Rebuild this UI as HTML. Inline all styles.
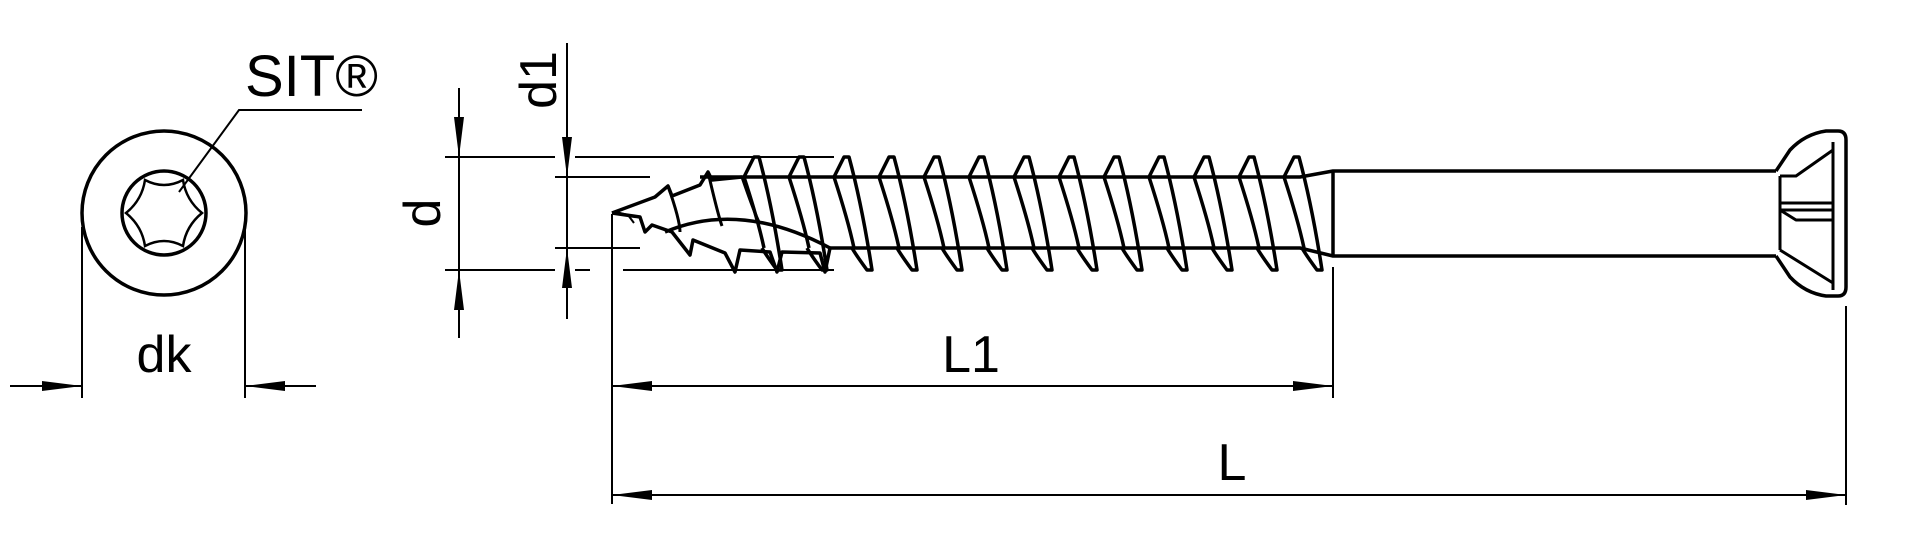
<!DOCTYPE html>
<html><head><meta charset="utf-8"><style>
html,body{margin:0;padding:0;background:#fff;width:1920px;height:548px;overflow:hidden}
svg{display:block}
text{font-family:"Liberation Sans",sans-serif;fill:#000}
</style></head><body>
<svg width="1920" height="548" viewBox="0 0 1920 548" xmlns="http://www.w3.org/2000/svg">
<defs>
<marker id="ar" viewBox="0 0 40 10" refX="40" refY="5" markerWidth="40" markerHeight="10" markerUnits="userSpaceOnUse" orient="auto"><path d="M0,0 L40,5 L0,10 Z" fill="#000"/></marker>
</defs>
<g fill="none" stroke="#000" stroke-width="3.5">
<circle cx="164" cy="213" r="82"/>
<circle cx="164" cy="213" r="42"/>
<path d="M202,213 Q186,226 183,246 Q164,236 145,246 Q142,226 126,213 Q142,200 145,180 Q164,190 183,180 Q186,200 202,213 Z" stroke-width="2.5"/>
</g>
<g fill="none" stroke="#000" stroke-width="2">
<path d="M179,192 L239,110 L362,110"/>
<path d="M82,227 V398 M245,227 V398"/>
<path d="M10,386 H82" marker-end="url(#ar)"/>
<path d="M316,386 H245" marker-end="url(#ar)"/>
<path d="M459,88 V157" marker-end="url(#ar)"/>
<path d="M459,338 V270" marker-end="url(#ar)"/>
<path d="M459,157 V270"/>
<path d="M445,157 H555 M575,157 H834 M445,270 H555 M575,270 H590 M623,270 H834"/>
<path d="M567,43 V177" marker-end="url(#ar)"/>
<path d="M567,319 V248" marker-end="url(#ar)"/>
<path d="M567,177 V248"/>
<path d="M555,177 H650 M555,248 H640"/>
<path d="M612,214 V504 M1333,267 V398 M1846,306 V505"/>
<path d="M700,386 H612" marker-end="url(#ar)"/>
<path d="M1250,386 H1333" marker-end="url(#ar)"/>
<path d="M652,386 H1295"/>
<path d="M700,495 H612" marker-end="url(#ar)"/>
<path d="M1760,495 H1846" marker-end="url(#ar)"/>
<path d="M652,495 H1806"/>
</g>
<g fill="none" stroke="#000" stroke-width="3.5" stroke-linejoin="round">
<path d="M700,177 H1300 L1333,171 H1776"/>
<path d="M830,248 H1300 L1333,256 H1776"/>
<path d="M1333,171 V256"/>
<path d="M612,213 L655,197 L668,186 L672,196 L700,185 L708,172 L712,180 L742,177"/>
<path d="M612,213 L640,217 L645,232 L652,225 L672,232 L690,255 L693,240 L725,253 L735,272 L740,250 L770,252 L777,272 L782,252 L820,253 L825,272 L830,248"/>
<path d="M665,232 Q740,200 830,248"/>
<path d="M616,212 L628,215 L634,223" stroke-width="2"/>
<path d="M668,186 Q680,220 680,232 M708,172 Q718,215 722,226 M742,177 Q755,215 760,224" stroke-width="3"/>
<path d="M1776,171 L1790,150 Q1805,134 1826,131 L1838,131 Q1846,131 1846,140 V287 Q1846,296 1838,296 L1826,296 Q1805,293 1790,277 L1776,256"/>
<path d="M1833,142 V290 M1780,176 H1796 L1833,150 M1780,250 L1833,283 M1780,176 V250 M1780,203 H1833 M1780,210 H1833 M1780,210 L1796,220 H1833" stroke-width="3"/>
</g>
<g fill="none" stroke="#000" stroke-width="3.5" stroke-linejoin="round">
<path d="M744,177 L754,157 L759,157 Q772,205 782,270 L777,270 Q766,255 762,248 M744,177 Q758,220 764,248"/>
<path d="M789,177 L799,157 L804,157 Q817,205 827,270 L822,270 Q811,255 807,248 M789,177 Q803,220 809,248"/>
<path d="M834,177 L844,157 L849,157 Q862,205 872,270 L867,270 Q856,255 852,248 M834,177 Q848,220 854,248"/>
<path d="M879,177 L889,157 L894,157 Q907,205 917,270 L912,270 Q901,255 897,248 M879,177 Q893,220 899,248"/>
<path d="M924,177 L934,157 L939,157 Q952,205 962,270 L957,270 Q946,255 942,248 M924,177 Q938,220 944,248"/>
<path d="M969,177 L979,157 L984,157 Q997,205 1007,270 L1002,270 Q991,255 987,248 M969,177 Q983,220 989,248"/>
<path d="M1014,177 L1024,157 L1029,157 Q1042,205 1052,270 L1047,270 Q1036,255 1032,248 M1014,177 Q1028,220 1034,248"/>
<path d="M1059,177 L1069,157 L1074,157 Q1087,205 1097,270 L1092,270 Q1081,255 1077,248 M1059,177 Q1073,220 1079,248"/>
<path d="M1104,177 L1114,157 L1119,157 Q1132,205 1142,270 L1137,270 Q1126,255 1122,248 M1104,177 Q1118,220 1124,248"/>
<path d="M1149,177 L1159,157 L1164,157 Q1177,205 1187,270 L1182,270 Q1171,255 1167,248 M1149,177 Q1163,220 1169,248"/>
<path d="M1194,177 L1204,157 L1209,157 Q1222,205 1232,270 L1227,270 Q1216,255 1212,248 M1194,177 Q1208,220 1214,248"/>
<path d="M1239,177 L1249,157 L1254,157 Q1267,205 1277,270 L1272,270 Q1261,255 1257,248 M1239,177 Q1253,220 1259,248"/>
<path d="M1284,177 L1294,157 L1299,157 Q1312,205 1322,270 L1317,270 Q1306,255 1302,248 M1284,177 Q1298,220 1304,248"/>
</g>
<text x="245" y="96" font-size="58">SIT®</text>
<text x="164" y="372" font-size="52" text-anchor="middle">dk</text>
<text x="971" y="372" font-size="52" text-anchor="middle">L1</text>
<text x="1232" y="480" font-size="52" text-anchor="middle">L</text>
<text transform="translate(440,213) rotate(-90)" font-size="52" text-anchor="middle">d</text>
<text transform="translate(556,80) rotate(-90)" font-size="52" text-anchor="middle">d1</text>
</svg>
</body></html>
